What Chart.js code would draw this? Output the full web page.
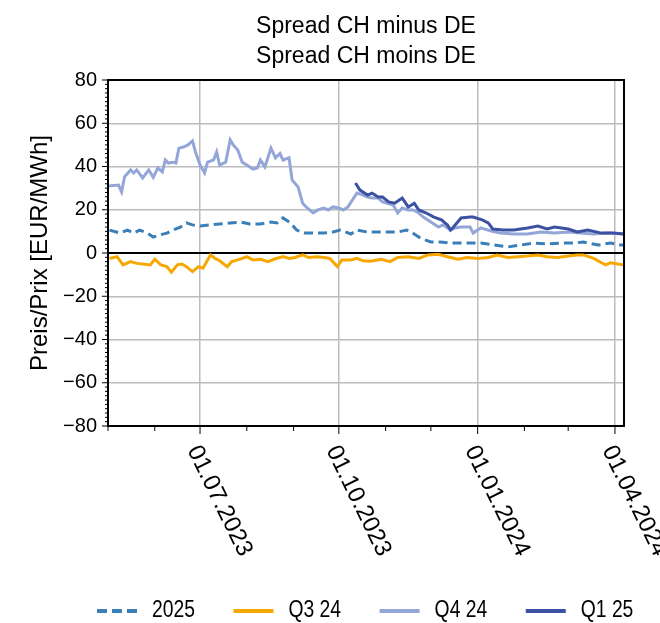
<!DOCTYPE html>
<html>
<head>
<meta charset="utf-8">
<script src="https://cdn.jsdelivr.net/npm/chart.js@4"></script>
<style>
  html, body { margin: 0; padding: 0; background: #fff; }
  canvas { display: block; }
</style>
</head>
<body>
<canvas id="chart" width="660" height="623"></canvas>
<script>
// x = Tage seit 01.05.2023
const monthDays = [0, 31, 61, 92, 123, 153, 184, 214, 245, 276, 305, 336];
const labelDays = [61, 153, 245, 336];
const dateLabels = ['01.07.2023', '01.10.2023', '01.01.2024', '01.04.2024'];
const titleLines = ['Spread CH minus DE', 'Spread CH moins DE'];

const days2025 = [1, 8, 13, 17, 21, 26, 30, 34, 39, 43, 48, 52, 56, 61, 67, 74, 81, 88, 94, 101, 108, 112, 116, 121, 125, 130, 136, 143, 149, 154, 161, 165, 172, 179, 185, 192, 198, 202, 207, 214, 220, 227, 233, 239, 247, 256, 265, 274, 282, 291, 300, 309, 315, 325, 333, 340, 342];
const vals2025 = [10.6, 9.2, 10.6, 9.2, 10.6, 9.2, 7.4, 8.3, 9.2, 10.6, 12, 13.9, 13, 12.5, 13, 13.4, 13.9, 14.3, 13.4, 13.4, 14.3, 13.9, 16.2, 13.9, 10.6, 9.2, 9.2, 9.2, 9.7, 10.6, 8.8, 10.6, 9.7, 9.7, 9.7, 9.7, 10.6, 9.2, 6.9, 5.1, 5.1, 4.6, 4.6, 4.6, 4.6, 3.7, 2.8, 3.7, 4.6, 4.2, 4.6, 4.6, 5.1, 3.7, 4.6, 3.7, 3.7];

const daysQ324 = [1, 6, 10, 15, 19, 23, 28, 31, 35, 39, 42, 46, 49, 52, 56, 60, 63, 66, 68, 71, 74, 79, 82, 86, 89, 92, 96, 101, 106, 110, 116, 120, 124, 129, 133, 139, 143, 147, 152, 155, 161, 165, 169, 174, 181, 187, 192, 199, 206, 212, 219, 225, 232, 238, 245, 252, 258, 265, 272, 278, 285, 291, 298, 305, 311, 315, 322, 327, 330, 333, 338, 342];
const valsQ324 = [-2.5, -1.7, -5.5, -4, -4.8, -5.1, -5.5, -2.9, -5.5, -6.3, -8.9, -5.5, -5.1, -6.3, -8.6, -6.3, -7, -3.2, -0.9, -2.5, -3.6, -6.3, -4, -3.2, -2.5, -1.7, -3.2, -2.9, -4, -2.9, -1.7, -2.5, -2.1, -0.9, -2.1, -1.7, -2.1, -2.5, -6.3, -3.2, -3.2, -2.5, -3.6, -3.8, -2.9, -4, -2.1, -1.7, -2.5, -0.9, -0.6, -1.7, -2.9, -2.1, -2.5, -2.1, -0.9, -2.1, -1.7, -1.4, -0.9, -1.7, -2.1, -1.4, -0.9, -0.9, -2.5, -4.5, -5.5, -4.5, -5.1, -5.5];

const daysQ424 = [0, 7, 9, 11, 15, 17, 19, 23, 27, 30, 33, 36, 38, 40, 43, 45, 47, 50, 53, 56, 58, 61, 64, 66, 70, 72, 74, 78, 81, 83, 86, 89, 92, 96, 99, 101, 104, 108, 111, 114, 116, 120, 122, 126, 129, 132, 136, 139, 143, 146, 149, 153, 156, 159, 162, 165, 169, 172, 175, 179, 182, 185, 189, 192, 195, 199, 202, 205, 209, 214, 219, 222, 227, 230, 234, 240, 242, 247, 254, 260, 269, 278, 287, 296, 305, 313, 322, 331, 342];
const valsQ424 = [31, 31.4, 28.3, 35.3, 38.4, 37, 38.4, 34.7, 38.4, 35, 39.3, 37.5, 43, 41.6, 42, 41.6, 48.5, 49, 50, 51.8, 46.7, 40.7, 37, 42, 43, 46.7, 40.7, 42, 52.3, 50, 47.6, 42, 40.7, 38.8, 39.3, 43, 39.8, 48.5, 44, 46, 43, 44, 33.8, 30.5, 23, 20.8, 18.5, 19.9, 20.8, 19.9, 21.3, 20.8, 19.9, 21.3, 24.5, 27.7, 26.8, 25.9, 25.4, 25.4, 23.6, 23, 22.2, 18.5, 20.8, 19.9, 19.9, 19, 16.6, 14.3, 12, 13, 10.6, 11.6, 12, 12, 9.2, 11.6, 10.2, 9.2, 8.8, 8.8, 9.7, 9.2, 9.7, 9.2, 8.8, 9.2, 8.8];

const daysQ125 = [164, 167, 172, 175, 179, 182, 186, 190, 195, 199, 203, 206, 211, 216, 221, 225, 227, 229, 234, 240, 242, 248, 252, 255, 262, 269, 278, 285, 291, 296, 305, 311, 318, 327, 335, 342];
const valsQ125 = [32.4, 29.1, 26.8, 27.7, 25.9, 25.9, 23.6, 23, 25.4, 21.3, 23, 19.9, 18.5, 16.6, 15.3, 13, 10.6, 12, 16.2, 16.6, 16.6, 15.3, 13.9, 11.1, 10.6, 10.6, 11.6, 12.5, 11.1, 12, 11.1, 9.7, 10.6, 9.2, 9.2, 8.8];

const toPoints = (d, v) => d.map((x, i) => ({ x: x, y: v[i] }));
const FONT = '"Liberation Sans", Arial, sans-serif';
const LEGEND_SQUEEZE = 0.84; // Legendenschrift ist schmaler

// Titel, Rahmen, Nebenticks, gedrehte Datumsbeschriftung und Legende
const decorations = {
    id: 'decorations',
    afterDraw(chart) {
        const { ctx, chartArea: a, scales: { x, y } } = chart;
        ctx.save();
        ctx.strokeStyle = '#000';
        ctx.lineWidth = 1;
        for (let v = -80; v <= 80; v += 2) {
            const py = y.getPixelForValue(v);
            const len = v % 20 === 0 ? 6 : 3;
            ctx.beginPath();
            ctx.moveTo(a.left - len, py);
            ctx.lineTo(a.left, py);
            ctx.stroke();
        }
        monthDays.forEach(d => {
            const px = x.getPixelForValue(d);
            const len = labelDays.includes(d) ? 8 : 5;
            ctx.beginPath();
            ctx.moveTo(px, a.bottom);
            ctx.lineTo(px, a.bottom + len);
            ctx.stroke();
        });
        ctx.lineWidth = 2;
        ctx.strokeRect(a.left, a.top, a.right - a.left, a.bottom - a.top);

        ctx.fillStyle = '#000';
        ctx.font = '24px ' + FONT;
        ctx.textAlign = 'left';
        ctx.textBaseline = 'middle';
        labelDays.forEach((d, i) => {
            const px = x.getPixelForValue(d);
            ctx.save();
            ctx.translate(px - 7, a.bottom + 21);
            ctx.rotate(64 * Math.PI / 180);
            ctx.fillText(dateLabels[i], 0, 0);
            ctx.restore();
        });

        // Titel
        ctx.textAlign = 'center';
        ctx.textBaseline = 'alphabetic';
        ctx.font = '23px ' + FONT;
        const cx = (a.left + a.right) / 2;
        titleLines.forEach((t, i) => ctx.fillText(t, cx, 33 + i * 30));

        // Legende
        ctx.font = '23px ' + FONT;
        ctx.textAlign = 'left';
        ctx.textBaseline = 'middle';
        let lx = 97;
        const ly = 611;
        chart.data.datasets.forEach(ds => {
            ctx.strokeStyle = ds.borderColor;
            ctx.lineWidth = 4;
            ctx.setLineDash(ds.borderDash ? [10, 5] : []);
            ctx.beginPath();
            ctx.moveTo(lx, ly);
            ctx.lineTo(lx + 40, ly);
            ctx.stroke();
            ctx.setLineDash([]);
            const w = ctx.measureText(ds.label).width * LEGEND_SQUEEZE;
            ctx.save();
            ctx.translate(lx + 55, ly);
            ctx.scale(LEGEND_SQUEEZE, 1);
            ctx.fillText(ds.label, 0, 0);
            ctx.restore();
            lx += 55 + w + 38.5;
        });
        ctx.restore();
    }
};

Chart.defaults.color = '#000';
Chart.defaults.font.family = FONT;

new Chart(document.getElementById('chart'), {
    type: 'line',
    data: {
        datasets: [
            {
                label: '2025',
                data: toPoints(days2025, vals2025),
                borderColor: '#3b7fb9',
                borderDash: [9, 5],
                borderWidth: 3
            },
            {
                label: 'Q3 24',
                data: toPoints(daysQ324, valsQ324),
                borderColor: '#f7a800',
                borderWidth: 3
            },
            {
                label: 'Q4 24',
                data: toPoints(daysQ424, valsQ424),
                borderColor: '#94a6d8',
                borderWidth: 3,
                order: 1
            },
            {
                label: 'Q1 25',
                data: toPoints(daysQ125, valsQ125),
                borderColor: '#3d51a3',
                borderWidth: 3
            }
        ]
    },
    options: {
        responsive: false,
        animation: false,
        layout: { padding: { top: 80 } },
        elements: { point: { radius: 0 }, line: { tension: 0 } },
        plugins: {
            legend: { display: false },
            tooltip: { enabled: false }
        },
        scales: {
            x: {
                type: 'linear',
                min: 0,
                max: 342,
                afterBuildTicks: s => { s.ticks = monthDays.map(v => ({ value: v })); },
                afterFit: s => { s.height = 197; },
                ticks: { display: false },
                grid: {
                    drawTicks: false,
                    lineWidth: 1.5,
                    color: c => labelDays.includes(c.tick && c.tick.value) ? '#bcbcbc' : 'rgba(0,0,0,0)'
                },
                border: { color: '#000', width: 2 }
            },
            y: {
                min: -80,
                max: 80,
                afterFit: s => { s.width = 108; },
                ticks: {
                    stepSize: 20,
                    padding: 11,
                    font: { size: 20 },
                    callback: v => v < 0 ? '\u2212' + Math.abs(v) : '' + v
                },
                grid: {
                    drawTicks: false,
                    lineWidth: c => c.tick && c.tick.value === 0 ? 2 : 1.5,
                    color: c => c.tick && c.tick.value === 0 ? '#000' : '#bcbcbc'
                },
                border: { color: '#000', width: 2 },
                title: {
                    display: true,
                    text: 'Preis/Prix [EUR/MWh]',
                    font: { size: 24 },
                    padding: { top: 26, bottom: 0 }
                }
            },
            yRight: {
                position: 'right',
                display: true,
                afterFit: s => { s.width = 36; },
                ticks: { display: false },
                grid: { display: false },
                border: { display: false }
            }
        }
    },
    plugins: [decorations]
});
</script>
</body>
</html>
